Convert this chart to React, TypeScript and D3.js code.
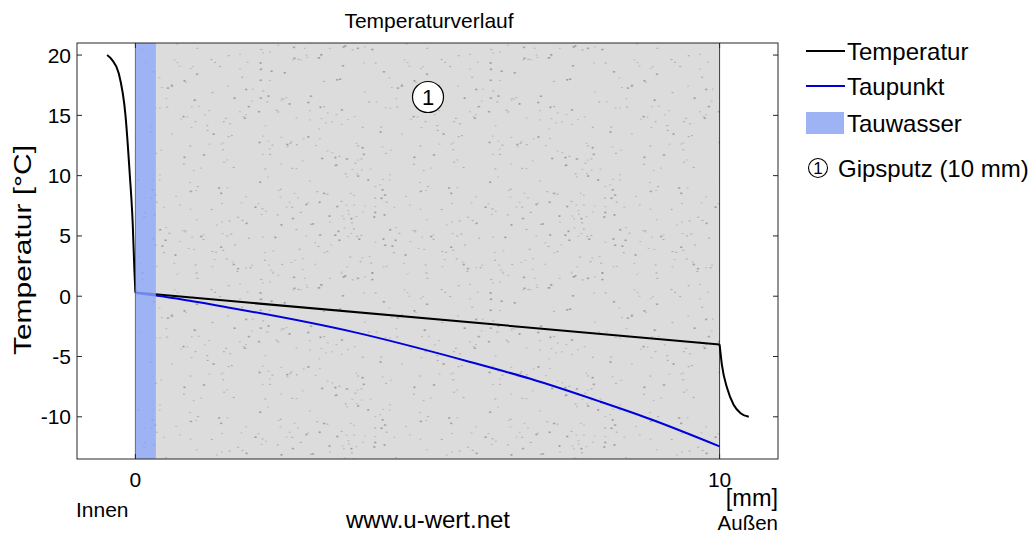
import React from 'react'
import * as d3 from 'd3'

const W = 1033, H = 534
const L = 77, R = 778, T = 43, B = 459
const FONT = '"Liberation Sans", Arial, Helvetica, sans-serif'

const xTicks = [0, 10]
const yTicks = [-10, -5, 0, 5, 10, 15, 20]

// Temperaturverlauf: innen (Luft) / Gipsputz / außen (Luft)
const tempInX = [-0.485, -0.4, -0.286, -0.17, -0.098, -0.046, -0.017, 0]
const tempInY = [20, 19.6, 18.5, 15, 10.2, 6, 2.1, 0.3]
const tempLayerX = [0, 10]
const tempLayerY = [0.3, -4]
const tempOutX = [10, 10.04, 10.13, 10.24, 10.36, 10.5]
const tempOutY = [-4, -5.7, -7.64, -9.0, -9.7, -10]

const dewX = [0, 0.35, 1.61, 3.76, 5.73, 6.76, 7.96, 8.82, 10]
const dewY = [0.27, 0.05, -0.95, -3.0, -5.45, -6.85, -8.75, -10.2, -12.45]

const layerBounds = [0, 10]
const condensation = [0, 0.35]

const legendItems = ['Temperatur', 'Taupunkt', 'Tauwasser']
const layerNames = ['Gipsputz (10 mm)']

const x = d3.scaleLinear().domain([-1, 11]).range([L, R])
const y = d3.scaleLinear().domain([-13.5, 21]).range([B, T])

function path(xs: number[], ys: number[], curve: d3.CurveFactory = d3.curveMonotoneX) {
  return d3.line<[number, number]>()
    .x(d => x(d[0]))
    .y(d => y(d[1]))
    .curve(curve)(xs.map((v, i) => [v, ys[i]] as [number, number])) || ''
}

// speckle texture of the plaster layer (decoration only)
const rnd = d3.randomUniform.source(d3.randomLcg(0.37))(0, 1)
const TILE = 230
const speckles = d3.range(360).map(() => [rnd() * TILE, rnd() * TILE, rnd()])

export default function App() {
  const x0 = x(layerBounds[0]), x1 = x(layerBounds[1])
  return (
    <svg width={W} height={H} style={{ position: 'absolute', left: 0, top: 0, background: '#fff' }}
      fontFamily={FONT}>
      <defs>
        <pattern id="putz" width={TILE} height={TILE} patternUnits="userSpaceOnUse" x={x0} y={T}>
          <rect width={TILE} height={TILE} fill="#dcdcdc" />
          {speckles.map((d, i) => (
            <rect key={i} x={d[0]} y={d[1]} width={d[2] > 0.75 ? 1.6 : 1.1} height={d[2] > 0.75 ? 1.6 : 1.1}
              fill={d[2] > 0.5 ? '#8a8a8a' : '#a4a4a4'} />
          ))}
        </pattern>
        <clipPath id="plot"><rect x={L} y={T} width={R - L} height={B - T} /></clipPath>
      </defs>

      <text x={429} y={28} textAnchor="middle" fontSize={21} fill="#000">Temperaturverlauf</text>

      {/* Schicht */}
      <rect x={x0} y={T} width={x1 - x0} height={B - T} fill="url(#putz)" />
      {layerBounds.map((b, i) => (
        <line key={i} x1={x(b)} x2={x(b)} y1={T} y2={B} stroke="#3a3a3a" strokeWidth={1} />
      ))}

      <g clipPath="url(#plot)">
        <path d={path(tempInX, tempInY)} fill="none" stroke="#000" strokeWidth={2} />
        <path d={path(tempLayerX, tempLayerY, d3.curveLinear)} fill="none" stroke="#000" strokeWidth={2} />
        <path d={path(tempOutX, tempOutY)} fill="none" stroke="#000" strokeWidth={2} />
        <path d={path(dewX, dewY)} fill="none" stroke="#0000dc" strokeWidth={2} />
        <rect x={x(condensation[0])} y={T} width={x(condensation[1]) - x(condensation[0])} height={B - T}
          fill="#8da9fa" opacity={0.8} />
      </g>

      <circle cx={428} cy={97} r={15.5} fill="#fff" stroke="#000" strokeWidth={1.2} />
      <text x={428} y={97} dy="0.36em" textAnchor="middle" fontSize={22}>1</text>

      {/* Achsen */}
      <rect x={L} y={T} width={R - L} height={B - T} fill="none" stroke="#262626" strokeWidth={1} />
      {yTicks.map(t => (
        <g key={t}>
          <line x1={L} x2={L + 5} y1={y(t)} y2={y(t)} stroke="#262626" />
          <line x1={R - 5} x2={R} y1={y(t)} y2={y(t)} stroke="#262626" />
          <text x={71} y={y(t)} dy="0.36em" textAnchor="end" fontSize={21}>{t}</text>
        </g>
      ))}
      {xTicks.map(t => (
        <g key={t}>
          <line x1={x(t)} x2={x(t)} y1={B} y2={B - 5} stroke="#262626" />
          <line x1={x(t)} x2={x(t)} y1={T} y2={T + 5} stroke="#262626" />
          <text x={x(t)} y={487} textAnchor="middle" fontSize={21}>{t}</text>
        </g>
      ))}

      <text transform="translate(31,250) rotate(-90)" textAnchor="middle" fontSize={23}
        textLength={210} lengthAdjust="spacingAndGlyphs">Temperatur [°C]</text>

      <text x={76} y={517} fontSize={21}>Innen</text>
      <text x={778} y={506} textAnchor="end" fontSize={23.5}>[mm]</text>
      <text x={778} y={530} textAnchor="end" fontSize={20.5}>Außen</text>
      <text x={428} y={528} textAnchor="middle" fontSize={24}>www.u-wert.net</text>

      {/* Legende */}
      <line x1={806} x2={845} y1={51} y2={51} stroke="#000" strokeWidth={2} />
      <line x1={806} x2={845} y1={86} y2={86} stroke="#0000dc" strokeWidth={2} />
      <rect x={806} y={112} width={38} height={22} fill="#9db3f4" />
      {legendItems.map((s, i) => (
        <text key={s} x={847} y={[51, 86, 123][i]} dy="0.36em" fontSize={24}>{s}</text>
      ))}
      <circle cx={818} cy={168} r={9.5} fill="#fff" stroke="#000" strokeWidth={1.1} />
      <text x={818} y={168} dy="0.36em" textAnchor="middle" fontSize={17}>1</text>
      <text x={838} y={168} dy="0.36em" fontSize={24}>{layerNames[0]}</text>
    </svg>
  )
}
